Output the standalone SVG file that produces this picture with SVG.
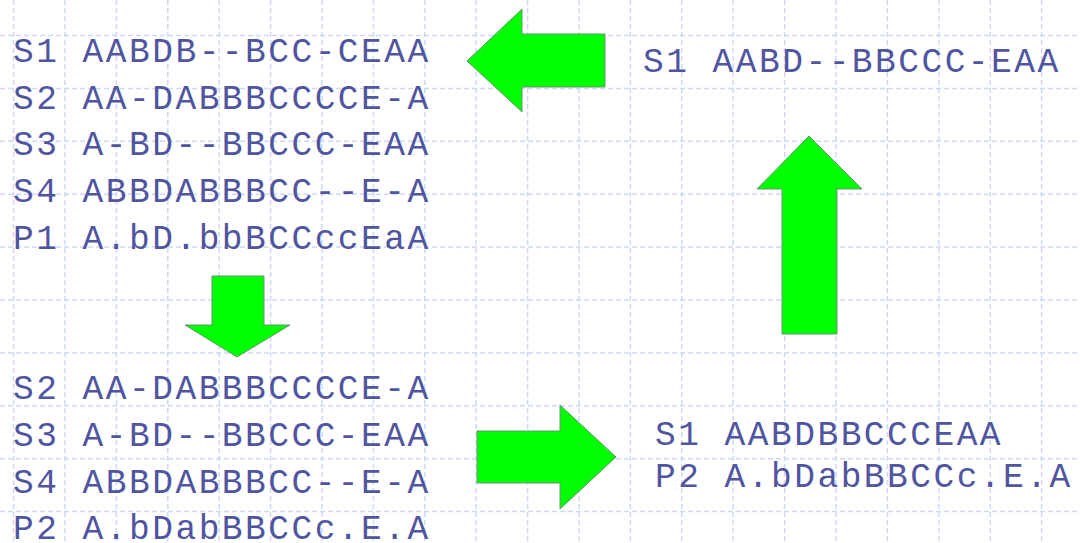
<svg xmlns="http://www.w3.org/2000/svg" width="1080" height="543" viewBox="0 0 1080 543">
<defs>
<style>
.grid line{stroke:#cdd9f6;stroke-width:1.5;stroke-dasharray:5 3}
.seq{font-family:"Liberation Mono","Courier New",monospace;font-size:34.5px;letter-spacing:2.5px;fill:#50559f}
.arrow{fill:#00ff00;stroke:#6f8f78;stroke-width:1}
</style>
</defs>
<rect width="1080" height="543" fill="#ffffff"/>
<g class="grid" id="grid">
<line x1="13.6" y1="0" x2="13.6" y2="543"/>
<line x1="65" y1="0" x2="65" y2="543"/>
<line x1="116.4" y1="0" x2="116.4" y2="543"/>
<line x1="167.8" y1="0" x2="167.8" y2="543"/>
<line x1="219.2" y1="0" x2="219.2" y2="543"/>
<line x1="270.6" y1="0" x2="270.6" y2="543"/>
<line x1="322" y1="0" x2="322" y2="543"/>
<line x1="373.4" y1="0" x2="373.4" y2="543"/>
<line x1="424.8" y1="0" x2="424.8" y2="543"/>
<line x1="476.2" y1="0" x2="476.2" y2="543"/>
<line x1="527.6" y1="0" x2="527.6" y2="543"/>
<line x1="579" y1="0" x2="579" y2="543"/>
<line x1="630.4" y1="0" x2="630.4" y2="543"/>
<line x1="681.8" y1="0" x2="681.8" y2="543"/>
<line x1="733.2" y1="0" x2="733.2" y2="543"/>
<line x1="784.6" y1="0" x2="784.6" y2="543"/>
<line x1="836" y1="0" x2="836" y2="543"/>
<line x1="887.4" y1="0" x2="887.4" y2="543"/>
<line x1="938.8" y1="0" x2="938.8" y2="543"/>
<line x1="990.2" y1="0" x2="990.2" y2="543"/>
<line x1="1041.6" y1="0" x2="1041.6" y2="543"/>
<line x1="0" y1="35.5" x2="1080" y2="35.5"/>
<line x1="0" y1="88.4" x2="1080" y2="88.4"/>
<line x1="0" y1="141.3" x2="1080" y2="141.3"/>
<line x1="0" y1="194.2" x2="1080" y2="194.2"/>
<line x1="0" y1="247.1" x2="1080" y2="247.1"/>
<line x1="0" y1="300" x2="1080" y2="300"/>
<line x1="0" y1="352.9" x2="1080" y2="352.9"/>
<line x1="0" y1="405.8" x2="1080" y2="405.8"/>
<line x1="0" y1="458.7" x2="1080" y2="458.7"/>
<line x1="0" y1="511.6" x2="1080" y2="511.6"/>
</g>
<g id="block-top-left" class="seq">
<text x="13" y="62">S1 AABDB--BCC-CEAA</text>
<text x="13" y="109">S2 AA-DABBBCCCCE-A</text>
<text x="13" y="155">S3 A-BD--BBCCC-EAA</text>
<text x="13" y="202">S4 ABBDABBBCC--E-A</text>
<text x="13" y="249">P1 A.bD.bbBCCccEaA</text>
</g>
<g id="block-bottom-left" class="seq">
<text x="13" y="399">S2 AA-DABBBCCCCE-A</text>
<text x="13" y="446">S3 A-BD--BBCCC-EAA</text>
<text x="13" y="493">S4 ABBDABBBCC--E-A</text>
<text x="13" y="539">P2 A.bDabBBCCc.E.A</text>
</g>
<g id="block-top-right" class="seq">
<text x="643" y="72">S1 AABD--BBCCC-EAA</text>
</g>
<g id="block-bottom-right" class="seq">
<text x="655" y="445">S1 AABDBBCCCEAA</text>
<text x="655" y="487">P2 A.bDabBBCCc.E.A</text>
</g>
<g id="connectors">
<polygon class="arrow" points="467,61 522,9 522,34 605,34 605,87 522,87 522,112"/>
<polygon class="arrow" points="212,276 264,276 264,325 290,325 237,357 185,325 212,325"/>
<polygon class="arrow" points="477,431 560,431 560,405 616,457 560,509 560,483 477,483"/>
<polygon class="arrow" points="809,136 862,189 837,189 837,334 782,334 782,189 757,189"/>
</g>
</svg>
